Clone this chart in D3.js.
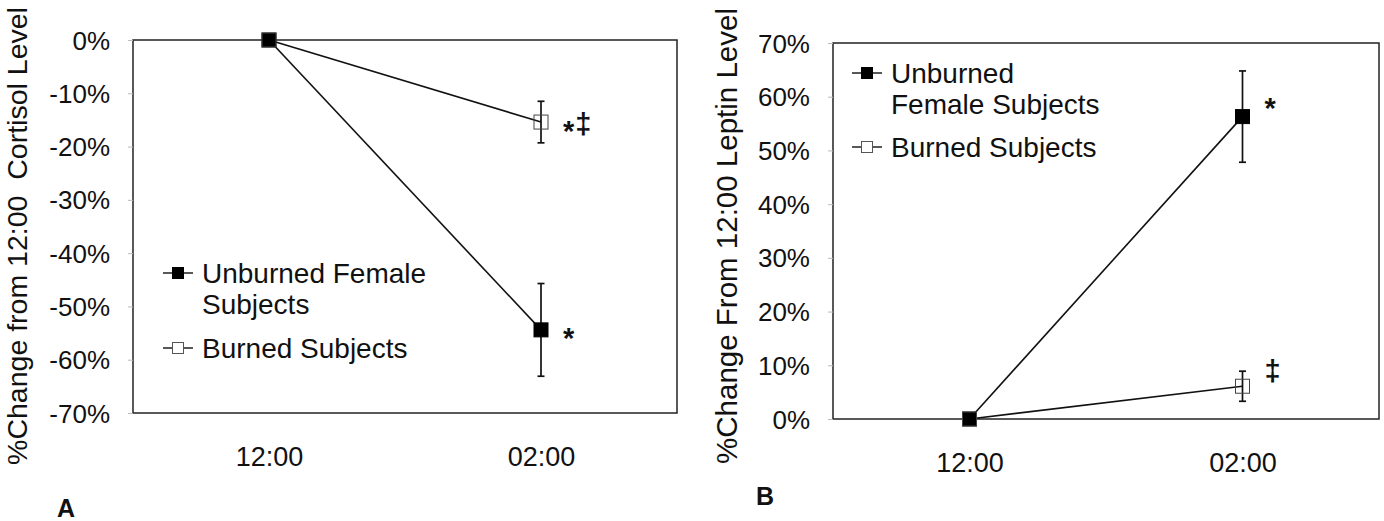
<!DOCTYPE html>
<html>
<head>
<meta charset="utf-8">
<script src="https://cdn.jsdelivr.net/npm/d3@7"></script>
<style>
  html, body { margin: 0; padding: 0; background: #fff; }
  svg { display: block; }
  text { font-family: "Liberation Sans", Arial, sans-serif; fill: #111; }
</style>
</head>
<body>
<svg id="chart" width="1384" height="521"></svg>
<script>
// ---------- data ----------
const categories = ["12:00", "02:00"];

// Panel A: cortisol (% change from 12:00)
const cortisolUnburned = [0, -54.4];
const cortisolUnburnedErr = [0, 8.7];
const cortisolBurned = [0, -15.4];
const cortisolBurnedErr = [0, 3.9];
const cortisolTicks = [0, -10, -20, -30, -40, -50, -60, -70];
const cortisolUnburnedMarks = ["", "*"];
const cortisolBurnedMarks = ["", "*‡"];

// Panel B: leptin (% change from 12:00)
const leptinUnburned = [0, 56.3];
const leptinUnburnedErr = [0, 8.5];
const leptinBurned = [0, 6.1];
const leptinBurnedErr = [0, 2.8];
const leptinTicks = [0, 10, 20, 30, 40, 50, 60, 70];
const leptinUnburnedMarks = ["", "*"];
const leptinBurnedMarks = ["", "‡"];

// ---------- drawing ----------
const svg = d3.select("#chart");
const FONT = "Liberation Sans, Arial, sans-serif";

function panel(cfg) {
  const g = svg.append("g");
  const x = d3.scalePoint().domain(categories).range([cfg.left, cfg.right]).padding(0.5);
  const y = d3.scaleLinear().domain(cfg.domain).range([cfg.bottom, cfg.top]);

  // frame
  g.append("rect")
    .attr("x", cfg.left).attr("y", cfg.top)
    .attr("width", cfg.right - cfg.left).attr("height", cfg.bottom - cfg.top)
    .attr("fill", "none").attr("stroke", "#222").attr("stroke-width", 1.5);

  // y axis
  const yAxis = d3.axisLeft(y).tickValues(cfg.ticks).tickSize(5).tickPadding(18)
    .tickFormat(d => d + "%");
  const ya = g.append("g").attr("transform", `translate(${cfg.left},0)`).call(yAxis);
  ya.select(".domain").remove();
  ya.selectAll(".tick line").attr("stroke", "#bbb").attr("stroke-width", 1);
  ya.selectAll(".tick text").attr("font-size", 26).attr("fill", "#111")
    .attr("font-family", FONT).attr("dy", "0.35em");

  // x axis labels
  const xAxis = d3.axisBottom(x).tickSize(0).tickPadding(34);
  const xa = g.append("g").attr("transform", `translate(0,${cfg.bottom})`).call(xAxis);
  xa.select(".domain").remove();
  xa.selectAll(".tick text").attr("font-size", 27).attr("fill", "#111")
    .attr("font-family", FONT);

  // y title
  g.append("text")
    .attr("transform", `translate(${cfg.titleX},${cfg.titleY}) rotate(-90)`)
    .attr("text-anchor", "middle")
    .attr("font-size", cfg.titleSize)
    .attr("xml:space", "preserve")
    .text(cfg.title);

  // series lines
  const line = d3.line().x((d, i) => x(categories[i])).y(d => y(d));
  cfg.series.forEach(s => {
    g.append("path").datum(s.values).attr("d", line)
      .attr("fill", "none").attr("stroke", "#111").attr("stroke-width", 1.6);
  });
  // error bars
  cfg.series.forEach(s => {
    s.values.forEach((v, i) => {
      const e = s.err[i];
      if (!e) return;
      const cx = x(categories[i]);
      g.append("line").attr("x1", cx).attr("x2", cx).attr("y1", y(v + e)).attr("y2", y(v - e))
        .attr("stroke", "#111").attr("stroke-width", 1.7);
      [v + e, v - e].forEach(w => {
        g.append("line").attr("x1", cx - 3.5).attr("x2", cx + 3.5).attr("y1", y(w)).attr("y2", y(w))
          .attr("stroke", "#111").attr("stroke-width", 1.7);
      });
    });
  });
  // markers + significance marks
  const charLift = { "*": 0.57, "‡": 0.33 };
  const MS = 29;
  cfg.series.forEach(s => {
    const sz = 14;
    g.selectAll(null).data(s.values).enter().append("rect")
      .attr("x", (d, i) => x(categories[i]) - sz / 2)
      .attr("y", d => y(d) - sz / 2)
      .attr("width", sz).attr("height", sz)
      .attr("fill", s.filled ? "#000" : "none")
      .attr("stroke", s.filled ? "#000" : "#444")
      .attr("stroke-width", 1);
    s.marks.forEach((m, i) => {
      let cx = x(categories[i]) + 22;
      const cy = y(s.values[i]) + cfg.markShift;
      Array.from(m).forEach(ch => {
        const t = g.append("text")
          .attr("x", cx).attr("y", cy + (charLift[ch] || 0.4) * MS)
          .attr("font-size", MS).attr("font-weight", "bold")
          .attr("font-family", "DejaVu Sans, sans-serif")
          .text(ch);
        cx += t.node().getComputedTextLength() + 1;
      });
    });
  });

  // legend
  cfg.legend.forEach(L => {
    const lg = g.append("g");
    lg.append("line").attr("x1", L.x - 15).attr("x2", L.x + 15).attr("y1", L.y).attr("y2", L.y)
      .attr("stroke", "#111").attr("stroke-width", 1.4);
    const ls = 11;
    lg.append("rect").attr("x", L.x - ls / 2).attr("y", L.y - ls / 2).attr("width", ls).attr("height", ls)
      .attr("fill", L.filled ? "#000" : "#fff").attr("stroke", L.filled ? "#000" : "#555");
    L.lines.forEach((t, k) => {
      lg.append("text").attr("x", L.x + 24).attr("y", L.y + 9.5 + k * 31)
        .attr("font-size", 28).text(t);
    });
  });

  // panel letter
  svg.append("text").attr("x", cfg.letterX).attr("y", cfg.letterY)
    .attr("font-family", "Open Sans, DejaVu Sans, sans-serif")
    .attr("font-weight", "bold").attr("font-size", 25).text(cfg.letter);
}

panel({
  left: 133, right: 677, top: 40, bottom: 413,
  domain: [-70, 0], ticks: cortisolTicks,
  title: "%Change from 12:00  Cortisol Level", titleX: 27, titleY: 236, titleSize: 28.5,
  markShift: 2,
  series: [
    { values: cortisolUnburned, err: cortisolUnburnedErr, filled: true, marks: cortisolUnburnedMarks },
    { values: cortisolBurned, err: cortisolBurnedErr, filled: false, marks: cortisolBurnedMarks }
  ],
  legend: [
    { x: 178, y: 273, filled: true, lines: ["Unburned Female", "Subjects"] },
    { x: 178, y: 348, filled: false, lines: ["Burned Subjects"] }
  ],
  letter: "A", letterX: 57, letterY: 517
});

panel({
  left: 833, right: 1379, top: 43, bottom: 419,
  domain: [0, 70], ticks: leptinTicks,
  title: "%Change From 12:00 Leptin Level", titleX: 737, titleY: 236, titleSize: 29.5,
  markShift: -15,
  series: [
    { values: leptinUnburned, err: leptinUnburnedErr, filled: true, marks: leptinUnburnedMarks },
    { values: leptinBurned, err: leptinBurnedErr, filled: false, marks: leptinBurnedMarks }
  ],
  legend: [
    { x: 867, y: 73, filled: true, lines: ["Unburned", "Female Subjects"] },
    { x: 867, y: 147, filled: false, lines: ["Burned Subjects"] }
  ],
  letter: "B", letterX: 756, letterY: 505
});
</script>
</body>
</html>
